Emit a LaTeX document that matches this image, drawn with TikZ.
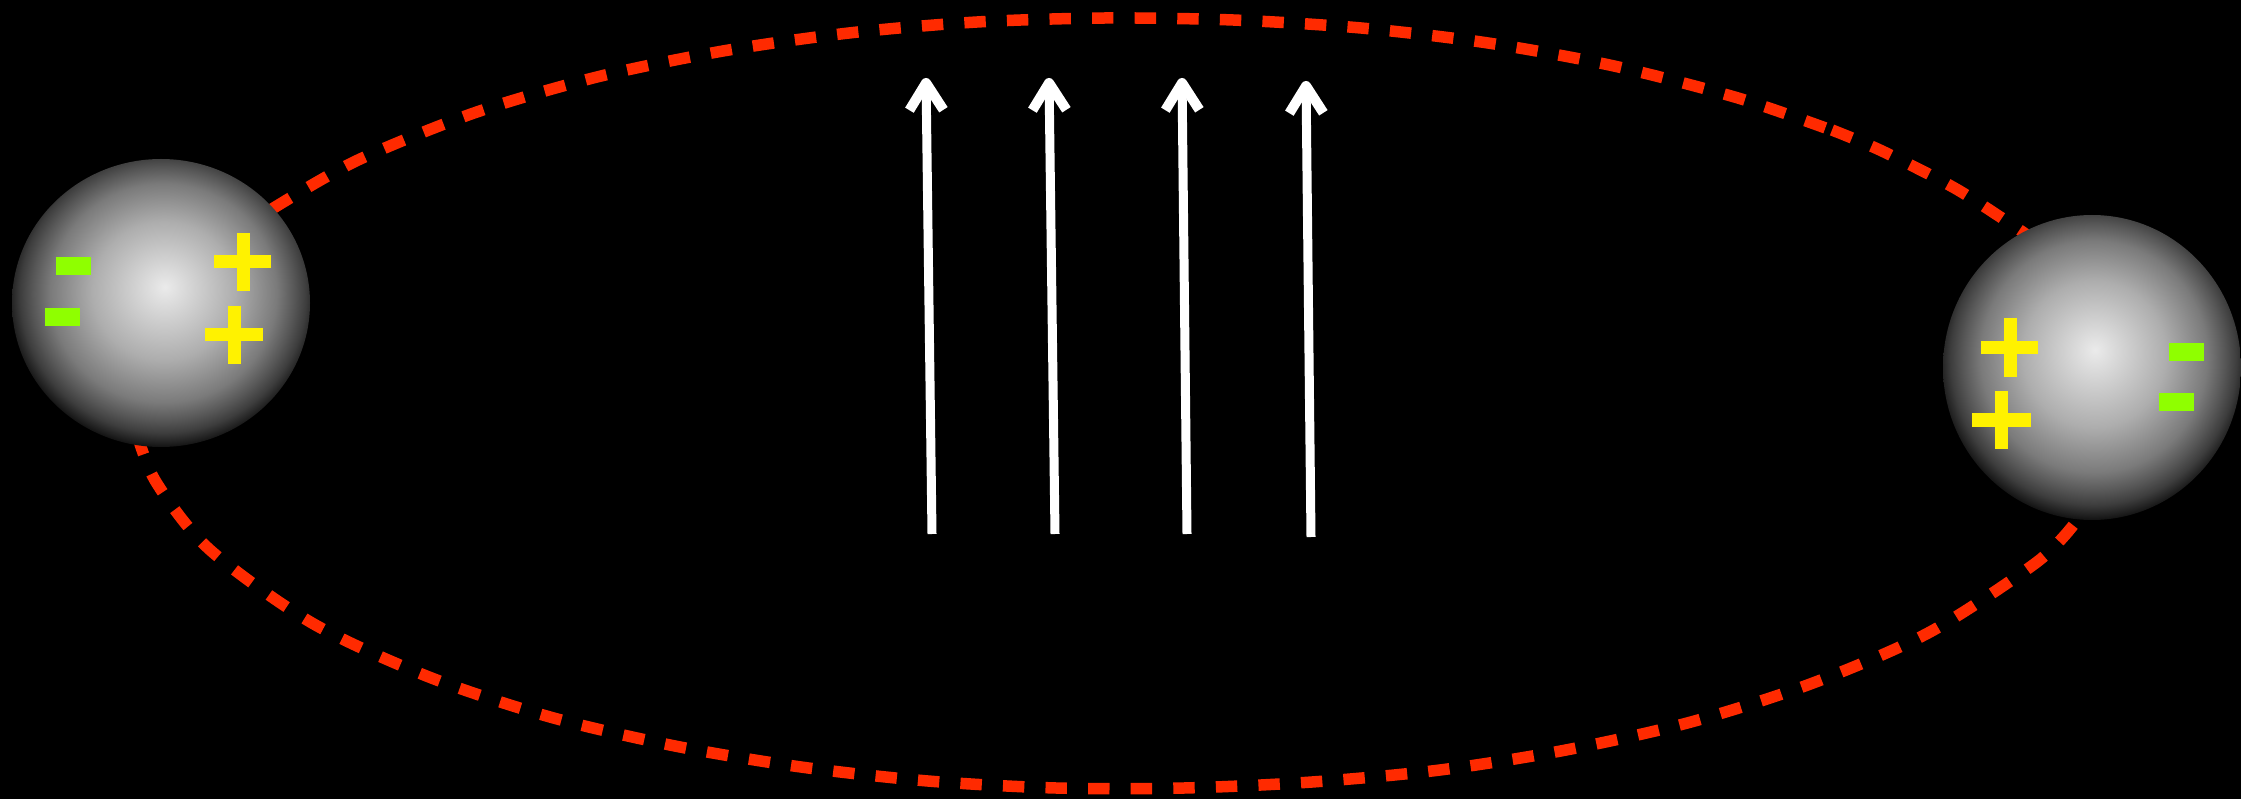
\documentclass[tikz,border=0pt]{standalone}
\usepackage{tikz}
\usetikzlibrary{arrows.meta}
\tikzset{>={Straight Barb[length=27pt,width=34pt,line width=10pt,line join=round]}}

\definecolor{orbitred}{RGB}{255,42,0}
\definecolor{minusgreen}{RGB}{143,255,0}
\pgfdeclareradialshading{leftball}{\pgfpoint{0.65bp}{2.8bp}}{%
  color(0bp)=(black!8); color(4bp)=(black!16); color(12bp)=(black!32);
  color(19bp)=(black!52); color(22bp)=(black!66); color(24bp)=(black!76); color(25.7bp)=(black!88); color(27.3bp)=(black!100); color(50bp)=(black)}
\pgfdeclareradialshading{rightball}{\pgfpoint{0.5bp}{2.9bp}}{%
  color(0bp)=(black!8); color(4bp)=(black!16); color(12bp)=(black!32);
  color(19bp)=(black!52); color(22bp)=(black!66); color(24bp)=(black!76); color(25.7bp)=(black!88); color(27.3bp)=(black!100); color(50bp)=(black)}
\tikzset{
  orbit/.style={orbitred, line width=11.5pt, dash pattern=on 21.4pt off 21.2pt},
  field/.style={->, white, line width=9pt},
  plusbar/.style={yellow, line width=13pt},
  minusbar/.style={minusgreen, line width=18pt},
}

\begin{document}
\begin{tikzpicture}[x=1pt, y=-1pt]

  \newcommand\Mhalf{17.5};

  \fill[black] (0,0) rectangle (2241,799);
  \useasboundingbox (0,0) rectangle (2241,799);

  % the path, in three pieces
  \draw[orbit] plot[smooth] coordinates {(272,209) (356,161) (474,113) (597,77) (723,51)
    (849,33) (977,22) (1105,18) (1233,20) (1361,28) (1488,43) (1614,66) (1738,98) (1831,130)};
  \draw[orbit] plot[smooth] coordinates {(1832,130) (1882,151) (1958,190) (2030,237)};
  \draw[orbit] plot[smooth] coordinates {(137,434) (156,482) (209,549) (312,623) (429,677)
    (550,717) (675,746) (801,767) (928,781) (1056,788) (1184,788) (1312,782) (1440,770)
    (1566,750) (1691,722) (1813,683) (1930,632) (2037,562) (2075,523)};

  \shade[shading=leftball] (161,303) ellipse (149 and 144);
  \shade[shading=rightball] (2092,367.5) ellipse (149 and 152.5);

  % charges on the left ball
  \draw[plusbar] (214,262)--(271,262) (243.5,233)--(243.5,291);
  \draw[plusbar] (205,334.5)--(263,334.5) (234.5,306)--(234.5,364);
  \draw[minusbar] (73.5-\Mhalf,266)--(73.5+\Mhalf,266);
  \draw[minusbar] (62.5-\Mhalf,317)--(62.5+\Mhalf,317);

  % charges on the right ball
  \draw[plusbar] (1981,347.5)--(2038,347.5) (2010.5,318)--(2010.5,377);
  \draw[plusbar] (1972,420)--(2031,420) (2001.5,391)--(2001.5,449);
  \draw[minusbar] (2186.5-\Mhalf,352)--(2186.5+\Mhalf,352);
  \draw[minusbar] (2176.5-\Mhalf,402)--(2176.5+\Mhalf,402);

  \coordinate (foot1) at (932,534);
  \coordinate (foot2) at (1055,534);
  \coordinate (foot3) at (1187,534);
  \coordinate (foot4) at (1311,537);
  \coordinate (head1) at (926,78);
  \coordinate (head2) at (1049,78);
  \coordinate (head3) at (1182,78);
  \coordinate (head4) at (1306,81);

  \draw[field] (foot1)--(head1);
  \draw[field] (foot2)--(head2);
  \draw[field] (foot3)--(head3);
  \draw[field] (foot4)--(head4);

\end{tikzpicture}
\end{document}
